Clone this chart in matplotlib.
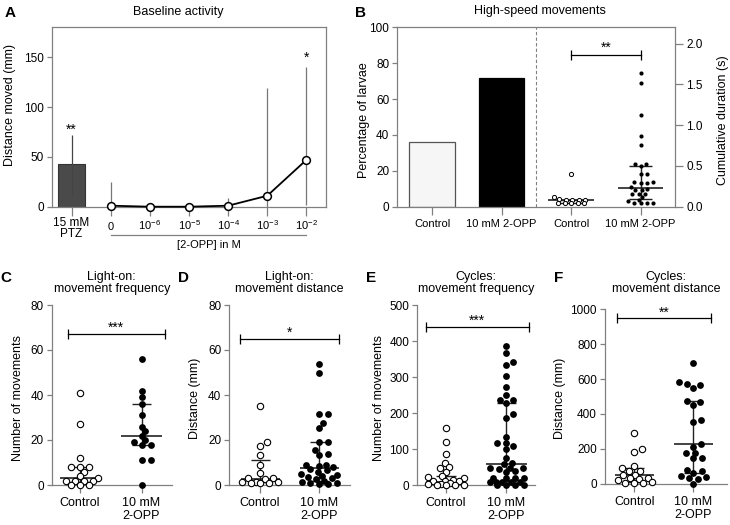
import numpy as np
import matplotlib.pyplot as plt
from matplotlib.transforms import blended_transform_factory

plt.rcParams['font.family'] = ['Liberation Sans', 'DejaVu Sans']
plt.rcParams['mathtext.fontset'] = 'custom'
plt.rcParams['mathtext.rm'] = 'Liberation Sans'
plt.rcParams['mathtext.it'] = 'Liberation Sans:italic'
plt.rcParams['font.size'] = 8.5

# ---- data ----
# A: baseline activity
ptz_mean, ptz_lo, ptz_hi = 43, 11, 72
conc_labels = ['0', '10$^{-6}$', '10$^{-5}$', '10$^{-4}$', '10$^{-3}$', '10$^{-2}$']
conc_mean = [1, 0, 0, 1, 11, 47]
conc_lo = [0, 0, 0, 0, 0, 2]
conc_hi = [25, 0, 0, 9, 119, 140]

# B: high-speed movements
b_groups = ['Control', '10 mM 2-OPP']
b_pct = [36, 72]
b_ctrl = [0.40, 0.115, 0.09, 0.08, 0.08, 0.08, 0.08, 0.05, 0.04, 0.04, 0.04, 0.04]
b_opp = [1.64, 1.52, 1.12, 0.87, 0.76, 0.52, 0.52, 0.50, 0.40, 0.40, 0.30, 0.30, 0.29, 0.29,
         0.24, 0.22, 0.21, 0.20, 0.16, 0.16, 0.16, 0.12, 0.08, 0.07, 0.05, 0.05, 0.05, 0.04]
b_ctrl_stats = (0.08, 0.045, 0.085)   # median, q1, q3
b_opp_stats = (0.23, 0.095, 0.50)

# C: light-on movement frequency
c_ctrl = [41, 27, 12, 8, 8, 8, 6, 4, 3, 2, 2, 2, 2, 0, 0, 0]
c_opp = [56, 42, 39, 36, 31, 26, 24, 22, 20, 19, 18, 18, 11, 11, 0]
c_ctrl_stats = (3.3, 1.5, 8)
c_opp_stats = (22, 18, 36)

# D: light-on movement distance
d_ctrl = [35, 19, 17.5, 13.3, 9, 5.2, 3, 3, 2.5, 1.5, 1.5, 1.5, 1, 1, 1]
d_opp = [54, 50, 31.5, 31.5, 27.5, 25.5, 19, 19, 15.5, 14, 13.5, 9, 9, 8.5, 8, 7, 6.5, 6, 5,
         4.5, 4, 3.5, 3, 2.5, 2, 1.5, 1, 1, 0.5, 0.5]
d_ctrl_stats = (2.5, 1.2, 11)
d_opp_stats = (7.4, 2, 19)

# E: cycles movement frequency
e_ctrl = [157, 120, 86, 62, 50, 47, 37, 25, 22, 20, 15, 12, 12, 10, 5, 3, 2, 0, 0, 0, 0]
e_opp = [385, 368, 342, 332, 303, 273, 250, 237, 237, 227, 196, 187, 134, 118, 116, 108, 99,
         74, 62, 57, 47, 47, 46, 44, 38, 36, 20, 20, 20, 20, 8, 8, 8, 8, 8, 0, 0, 0, 0]
e_ctrl_stats = (9, 2, 26)
e_opp_stats = (57, 12, 227)

# F: cycles movement distance
f_ctrl = [289, 197, 180, 101, 88, 75, 70, 50, 48, 35, 30, 27, 20, 10, 5, 3, 2]
f_opp = [690, 585, 572, 568, 551, 474, 470, 452, 365, 352, 226, 212, 178, 176, 150, 148, 80,
         70, 60, 45, 38, 30, 25, 0]
f_ctrl_stats = (50, 12, 92)
f_opp_stats = (226, 60, 474)

W, H = 730, 525
GRAY = '#808080'
fig = plt.figure(figsize=(W / 100, H / 100), dpi=100)


def box(x0, y0, x1, y1):
    # pixel box (top-left origin) -> figure fraction
    return [x0 / W, 1 - y1 / H, (x1 - x0) / W, (y1 - y0) / H]


def ftext(x, y, s, **kw):
    fig.text(x / W, 1 - y / H, s, **kw)


def swarm(ax, xc, vals, dx_px, dy_px, half_w):
    # beeswarm in pixel space with an elliptical footprint (wide rows like Prism),
    # points that cannot fit inside +-half_w are squeezed in with overlap
    pts = ax.transData.transform(np.column_stack([np.full(len(vals), xc), vals]))
    ys = pts[:, 1] * dx_px / dy_px
    diam = dx_px
    offs = np.zeros(len(vals))
    placed = []
    grid = np.linspace(-half_w, half_w, 41)
    for i in np.argsort(ys):
        y = ys[i]
        cands = [0.0]
        for px, py in placed:
            dy = abs(y - py)
            if dy < diam:
                d = np.sqrt(diam ** 2 - dy ** 2)
                cands += [px + d, px - d]
        cands = [c for c in cands if abs(c) <= half_w + 1e-6]
        cands.sort(key=abs)
        best = None
        for c in cands:
            if all((c - px) ** 2 + (y - py) ** 2 >= diam ** 2 - 1e-6 for px, py in placed):
                best = c
                break
        if best is None:
            dmin = [min((g - px) ** 2 + (y - py) ** 2 for px, py in placed) for g in grid]
            best = grid[int(np.argmax(dmin))]
        offs[i] = best
        placed.append((best, y))
    back = ax.transData.inverted().transform(np.column_stack([pts[:, 0] + offs, pts[:, 1]]))
    return back[:, 0]


def med_iqr(ax, x, stats, hw=0.33, cw=0.16, color='#222222'):
    med, q1, q3 = stats
    ax.vlines(x, q1, q3, color=color, lw=1.0, zorder=4)
    ax.hlines(med, x - hw, x + hw, color=color, lw=1.2, zorder=4)
    ax.hlines([q1, q3], x - cw, x + cw, color=color, lw=1.0, zorder=4)


def bracket(ax, x0, x1, y, stars, off=1.5):
    ax.plot([x0, x1], [y, y], color='black', lw=0.9, marker='|', ms=7, mew=0.9, clip_on=False)
    ax.annotate(stars, ((x0 + x1) / 2, y), xytext=(0, off), textcoords='offset points',
                ha='center', va='baseline', fontsize=10)


def style(ax, spines=('left', 'bottom')):
    for k, sp in ax.spines.items():
        sp.set_color(GRAY)
        sp.set_linewidth(0.9)
        sp.set_visible(k in spines)
    ax.tick_params(axis='y', direction='out', length=3.8, width=0.9, color=GRAY, pad=2)
    ax.tick_params(axis='x', direction='out', length=5.5, width=0.9, color=GRAY, pad=3.5)


# ---------------- A ----------------
axA = fig.add_axes(box(52, 27.3, 326, 206.7))
style(axA, spines=('left', 'bottom', 'top', 'right'))
axA.tick_params(axis='x', length=6.5)
axA.bar(-1, ptz_mean, width=0.7, color='#4a4a4a', edgecolor='#333333', lw=0.8)
axA.vlines(-1, ptz_lo, ptz_hi, color='#444444', lw=0.9, zorder=3)
x_conc = np.arange(len(conc_mean))
axA.vlines(x_conc, conc_lo, conc_hi, color='#777777', lw=0.9)
axA.plot(x_conc, conc_mean, '-o', color='black', lw=1.3, mfc='white', mec='black', ms=5.6,
         mew=1.1, zorder=5, clip_on=False)
axA.set_xlim(-1.5, 5.5)
axA.set_ylim(0, 180)
axA.set_yticks([0, 50, 100, 150])
axA.set_xticks([-1] + list(x_conc))
axA.set_xticklabels([''] * 7)
axA.annotate('**', (-1, ptz_hi), xytext=(0, 0.5), textcoords='offset points', ha='center',
             va='baseline', fontsize=10)
axA.annotate('*', (5, conc_hi[5]), xytext=(0, 4), textcoords='offset points', ha='center',
             va='baseline', fontsize=10)
tA = blended_transform_factory(axA.transData, axA.transAxes)
for xi, lab in zip(x_conc, conc_labels):
    axA.text(xi, (206.7 - 230) / 179.4, lab, transform=tA, ha='center', va='baseline', fontsize=8)
axA.text(-1, (206.7 - 216.5) / 179.4, '15 mM\nPTZ', transform=tA, ha='center', va='top',
         fontsize=8.5, linespacing=0.95)
axA.plot([0, 5], [(206.7 - 235) / 179.4] * 2, transform=tA, color=GRAY, lw=0.9, clip_on=False)
axA.text(2.5, (206.7 - 248.5) / 179.4, '[2-OPP] in M', transform=tA, ha='center', va='baseline',
         fontsize=8)
ftext(10, 105, 'Distance moved (mm)', rotation=90, ha='center', va='center', fontsize=9)
ftext(178, 12, 'Baseline activity', ha='center', va='center', fontsize=9)
ftext(10, 13, 'A', ha='center', va='center', fontsize=11, fontweight='bold')

# ---------------- B ----------------
axB = fig.add_axes(box(397.3, 27.3, 675.3, 206.7))
style(axB, spines=('left', 'bottom', 'top', 'right'))
axB.bar([0, 1], b_pct, width=0.66, color=['#f6f6f6', 'black'], edgecolor=['#555555', 'black'],
        lw=0.9)
axB.axvline(1.5, color=GRAY, ls=(0, (3, 2)), lw=0.8)
axB.set_xlim(-0.5, 3.5)
axB.set_ylim(0, 100)
axB.set_yticks(range(0, 101, 20))
axB.set_xticks([0, 1, 2, 3])
axB.set_xticklabels(b_groups + b_groups, fontsize=8)
axB2 = axB.twinx()
axB2.set_position(box(397.3, 27.3, 675.3, 206.7))
for sp in axB2.spines.values():
    sp.set_visible(False)
axB2.set_ylim(0, 2.2)
axB2.set_yticks([0, 0.5, 1.0, 1.5, 2.0])
axB2.set_yticklabels(['0.0', '0.5', '1.0', '1.5', '2.0'])
axB2.tick_params(axis='y', direction='out', length=6, width=0.9, color=GRAY, pad=2)
xs = swarm(axB2, 2, b_ctrl, 6.5, 3.3, 17)
axB2.scatter(xs, b_ctrl, s=9, facecolor='white', edgecolor='black', lw=0.7, zorder=5, clip_on=False)
xs = swarm(axB2, 3, b_opp, 6.5, 3.6, 17)
axB2.scatter(xs, b_opp, s=9, color='black', lw=0, zorder=5, clip_on=False)
med_iqr(axB2, 2, b_ctrl_stats, hw=0.33, cw=0.17)
med_iqr(axB2, 3, b_opp_stats, hw=0.33, cw=0.17)
bracket(axB2, 2, 3, 1.86, '**', off=2.5)
ftext(364, 120, 'Percentage of larvae', rotation=90, ha='center', va='center', fontsize=9)
ftext(723, 120, 'Cumulative duration (s)', rotation=90, ha='center', va='center', fontsize=9)
ftext(540, 11, 'High-speed movements', ha='center', va='center', fontsize=9)
ftext(360, 13, 'B', ha='center', va='center', fontsize=11, fontweight='bold')


# ---------------- C-F ----------------
def dot_panel(rect, xlim, ymax, ystep, ctrl, opp, cst, ost, br, stars, title, ylabel, lab,
              lab_dx):
    ax = fig.add_axes(box(*rect))
    style(ax)
    ax.set_xlim(*xlim)
    ax.set_ylim(0, ymax)
    ax.set_yticks(np.arange(0, ymax + 1, ystep))
    ax.set_xticks([0, 1])
    ax.set_xticklabels(['Control', '10 mM\n2-OPP'], fontsize=9, linespacing=1.05)
    ax.tick_params(axis='y', labelsize=8.5)
    xs = swarm(ax, 0, ctrl, 9, 5, 18)
    ax.scatter(xs, ctrl, s=21, facecolor='white', edgecolor='black', lw=0.8, zorder=5,
               clip_on=False)
    xs = swarm(ax, 1, opp, 9, 5, 18)
    ax.scatter(xs, opp, s=24, color='black', lw=0, zorder=5, clip_on=False)
    med_iqr(ax, 0, cst)
    med_iqr(ax, 1, ost)
    bracket(ax, br[0], br[1], br[2], stars)
    cx = (rect[0] + rect[2]) / 2
    ftext(cx, 283, title, ha='center', va='center', fontsize=9, linespacing=1.1)
    ftext(rect[0] - lab_dx, 398, ylabel, rotation=90, ha='center', va='center', fontsize=9)
    ftext(rect[0] - 46, 278, lab, ha='center', va='center', fontsize=11, fontweight='bold')
    return ax


dot_panel((51.7, 305, 171.7, 485), (-0.46, 1.49), 80, 20, c_ctrl, c_opp, c_ctrl_stats,
          c_opp_stats, (-0.2, 1.38, 67), '***', 'Light-on:\nmovement frequency',
          'Number of movements', 'C', 34)
dot_panel((229.3, 305, 350, 485), (-0.52, 1.52), 80, 20, d_ctrl, d_opp, d_ctrl_stats,
          d_opp_stats, (-0.34, 1.34, 64.8), '*', 'Light-on:\nmovement distance',
          'Distance (mm)', 'D', 34)
dot_panel((417.3, 305, 535, 485), (-0.47, 1.47), 500, 100, e_ctrl, e_opp, e_ctrl_stats,
          e_opp_stats, (-0.33, 1.37, 438), '***', 'Cycles:\nmovement frequency',
          'Number of movements', 'E', 38)
dot_panel((605, 309.3, 726.7, 483.7), (-0.5, 1.57), 1000, 200, f_ctrl, f_opp, f_ctrl_stats,
          f_opp_stats, (-0.3, 1.31, 948), '**', 'Cycles:\nmovement distance',
          'Distance (mm)', 'F', 45)

fig.savefig('out.png', dpi=100)
